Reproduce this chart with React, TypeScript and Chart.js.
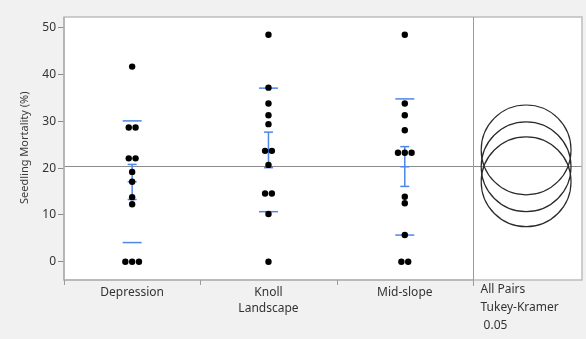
import React, { useEffect, useRef } from "react";
import { Chart, registerables } from "chart.js";

Chart.register(...registerables);

const categories = ["Depression", "Knoll", "Mid-slope"];
const depression = [41.7, 28.7, 28.7, 22.1, 22.1, 19.2, 17.1, 13.8, 12.3, 0, 0, 0];
const knoll = [48.5, 37.2, 33.8, 31.3, 29.4, 23.7, 23.7, 20.7, 14.6, 14.6, 10.2, 0];
const midSlope = [48.5, 33.8, 31.3, 28.1, 23.3, 23.3, 23.3, 13.9, 12.5, 5.7, 0, 0];
const groupMeans = [17.1, 23.9, 20.3];
const sdUpper = [30.1, 37.1, 34.8];
const sdLower = [4.1, 10.7, 5.7];
const errUpper = [20.8, 27.7, 24.6];
const errLower = [13.3, 20.1, 16.1];
const grandMean = 20.5;
const circleRadius = 9.6;
const yTicks = [0, 10, 20, 30, 40, 50];
const xAxisTitle = "Landscape";
const compareLabel = ["All Pairs", "Tukey-Kramer", " 0.05"];

const groups = [depression, knoll, midSlope];
const FONT = "'Noto Sans', sans-serif";
const BLUE = "#4f86e8";
const X_MIN = -0.5;
const X_PANEL = 2.5;
const X_MAX = 3.3;
const CIRCLE_X = 2.89;
const JITTER = 0.05;

function jittered(values: number[], gi: number) {
  const counts: Record<string, number> = {};
  values.forEach((v) => (counts[v] = (counts[v] || 0) + 1));
  const seen: Record<string, number> = {};
  return values.map((v) => {
    const n = counts[v];
    const k = seen[v] || 0;
    seen[v] = k + 1;
    return { x: gi + (k - (n - 1) / 2) * JITTER, y: v };
  });
}

const decorPlugin = {
  id: "decor",
  beforeDraw(chart: any) {
    const { ctx, chartArea: a } = chart;
    ctx.save();
    ctx.fillStyle = "#f1f1f1";
    ctx.fillRect(0, 0, chart.width, chart.height);
    ctx.fillStyle = "#ffffff";
    ctx.fillRect(a.left, a.top, a.right - a.left, a.bottom - a.top);
    ctx.restore();
  },
  beforeDatasetsDraw(chart: any) {
    const { ctx, chartArea: a, scales } = chart;
    const xs = scales.x;
    const ys = scales.y;
    ctx.save();
    ctx.strokeStyle = "#8c8c8c";
    ctx.lineWidth = 1;
    const gy = Math.round(ys.getPixelForValue(grandMean)) + 0.5;
    ctx.beginPath();
    ctx.moveTo(a.left, gy);
    ctx.lineTo(a.right, gy);
    ctx.stroke();
    const cx = xs.getPixelForValue(CIRCLE_X);
    const r = Math.abs(ys.getPixelForValue(0) - ys.getPixelForValue(circleRadius));
    ctx.strokeStyle = "#2a2a2a";
    ctx.lineWidth = 1.2;
    groupMeans.forEach((m) => {
      ctx.beginPath();
      ctx.arc(cx, ys.getPixelForValue(m), r, 0, Math.PI * 2);
      ctx.stroke();
    });
    ctx.strokeStyle = BLUE;
    ctx.lineWidth = 1.5;
    categories.forEach((_, i) => {
      const x = xs.getPixelForValue(i);
      const hl = (v: number, hw: number) => {
        const y = ys.getPixelForValue(v);
        ctx.beginPath();
        ctx.moveTo(x - hw, y);
        ctx.lineTo(x + hw, y);
        ctx.stroke();
      };
      hl(sdUpper[i], 9.5);
      hl(sdLower[i], 9.5);
      hl(errUpper[i], 4.5);
      hl(errLower[i], 4.5);
      hl(groupMeans[i], 4.5);
      ctx.beginPath();
      ctx.moveTo(x, ys.getPixelForValue(errUpper[i]));
      ctx.lineTo(x, ys.getPixelForValue(errLower[i]));
      ctx.stroke();
    });
    ctx.restore();
  },
  afterDraw(chart: any) {
    const { ctx, chartArea: a, scales } = chart;
    const xs = scales.x;
    const ys = scales.y;
    ctx.save();
    ctx.strokeStyle = "#bdbdbd";
    ctx.lineWidth = 1.5;
    ctx.strokeRect(a.left, a.top, a.right - a.left, a.bottom - a.top);
    ctx.strokeStyle = "#a8a8a8";
    ctx.lineWidth = 1.2;
    ctx.beginPath();
    ctx.moveTo(a.left, a.top);
    ctx.lineTo(a.left, a.bottom);
    ctx.lineTo(xs.getPixelForValue(X_PANEL), a.bottom);
    ctx.stroke();
    const dx = Math.round(xs.getPixelForValue(X_PANEL)) + 0.5;
    ctx.strokeStyle = "#9a9a9a";
    ctx.lineWidth = 1;
    ctx.beginPath();
    ctx.moveTo(dx, a.top);
    ctx.lineTo(dx, a.bottom + 6);
    ctx.stroke();
    [-0.5, 0.5, 1.5].forEach((b) => {
      const px = Math.round(xs.getPixelForValue(b)) + 0.5;
      ctx.beginPath();
      ctx.moveTo(px, a.bottom);
      ctx.lineTo(px, a.bottom + 5);
      ctx.stroke();
    });
    ctx.fillStyle = "#3a3a3a";
    ctx.font = `11px ${FONT}`;
    ctx.textAlign = "center";
    ctx.textBaseline = "middle";
    ctx.save();
    ctx.translate(25, (ys.getPixelForValue(yTicks[0]) + ys.getPixelForValue(yTicks[yTicks.length - 1])) / 2 + 3);
    ctx.rotate(-Math.PI / 2);
    ctx.fillText("Seedling Mortality (%)", 0, 0);
    ctx.restore();
    ctx.font = `12px ${FONT}`;
    ctx.fillStyle = "#333333";
    ctx.fillText(xAxisTitle, xs.getPixelForValue(1), 309);
    ctx.textAlign = "left";
    compareLabel.forEach((t, i) => {
      ctx.fillText(t, dx + 7, 290 + i * 18);
    });
    ctx.restore();
  },
};

export default function App() {
  const ref = useRef<HTMLCanvasElement | null>(null);
  useEffect(() => {
    document.body.style.margin = "0";
    const canvas = ref.current;
    if (!canvas) return;
    const chart = new Chart(canvas, {
      type: "scatter",
      data: {
        datasets: groups.map((g, gi) => ({
          label: categories[gi],
          data: jittered(g, gi),
          pointRadius: 3.2,
          pointHoverRadius: 3.2,
          backgroundColor: "#000000",
          borderColor: "#000000",
          borderWidth: 0,
        })),
      },
      options: {
        animation: false,
        responsive: false,
        events: [],
        layout: { padding: { top: 17, right: 4, left: 0, bottom: 0 } },
        plugins: { legend: { display: false }, tooltip: { enabled: false }, title: { display: false } },
        scales: {
          x: {
            type: "linear",
            min: X_MIN,
            max: X_MAX,
            afterBuildTicks: (s: any) => {
              s.ticks = categories.map((_, i) => ({ value: i }));
            },
            afterFit: (s: any) => {
              s.height = 59;
            },
            grid: { display: false },
            border: { display: false },
            ticks: {
              callback: (v: any) => categories[Number(v)] ?? "",
              color: "#333333",
              font: { family: FONT, size: 12 },
              padding: -3,
              maxRotation: 0,
              autoSkip: false,
            },
          },
          y: {
            type: "linear",
            min: -3.9,
            max: 52.3,
            afterBuildTicks: (s: any) => {
              s.ticks = yTicks.map((v) => ({ value: v }));
            },
            afterFit: (s: any) => {
              s.width = 64;
            },
            grid: { drawOnChartArea: false, drawTicks: true, tickLength: 6, color: "#8c8c8c" },
            border: { display: false },
            ticks: {
              color: "#333333",
              font: { family: FONT, size: 12 },
              padding: 2,
            },
          },
        },
      },
      plugins: [decorPlugin],
    });
    return () => chart.destroy();
  }, []);
  return <canvas ref={ref} width={586} height={339} style={{ display: "block" }} />;
}
